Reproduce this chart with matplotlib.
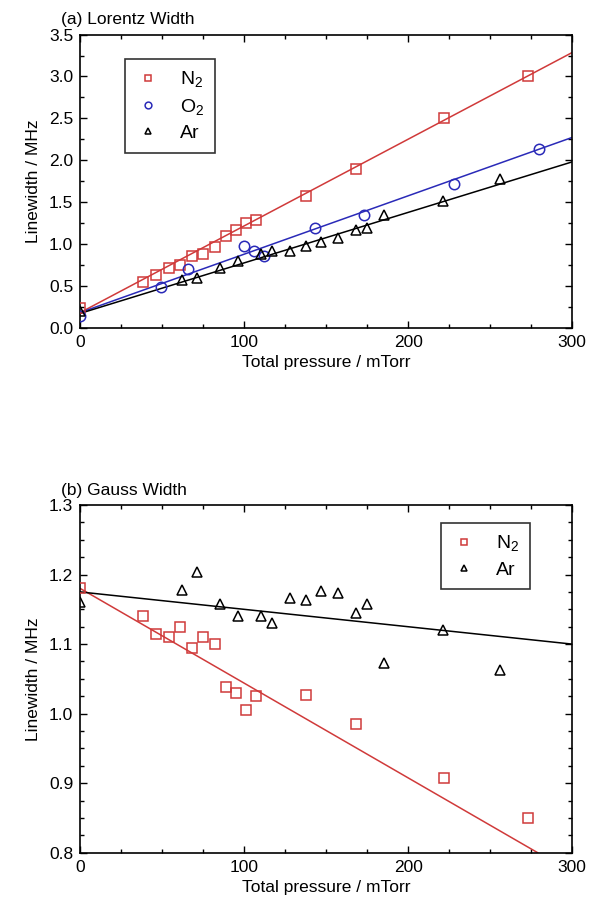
import numpy as np
import matplotlib
matplotlib.use('Agg')
import matplotlib.pyplot as plt
from matplotlib.ticker import MultipleLocator

plt.rcParams['font.family'] = ['Liberation Sans', 'DejaVu Sans']
plt.rcParams['mathtext.fontset'] = 'custom'
plt.rcParams['mathtext.rm'] = 'Liberation Sans'

# (a) Lorentz width
n2_p = [0, 38, 46, 54, 61, 68, 75, 82, 89, 95, 101, 107, 138, 168, 222, 273]
n2_lor = [0.24, 0.54, 0.63, 0.71, 0.75, 0.85, 0.88, 0.96, 1.10, 1.17, 1.25, 1.29, 1.57, 1.90, 2.50, 3.01]
o2_p = [0, 49, 66, 100, 106, 112, 143, 173, 228, 280]
o2_lor = [0.14, 0.48, 0.70, 0.97, 0.92, 0.86, 1.19, 1.34, 1.72, 2.13]
ar_p = [0, 62, 71, 85, 96, 110, 117, 128, 138, 147, 157, 168, 175, 185, 221, 256]
ar_lor = [0.20, 0.57, 0.59, 0.71, 0.79, 0.88, 0.92, 0.92, 0.98, 1.02, 1.07, 1.17, 1.19, 1.35, 1.51, 1.77]

# (b) Gauss width
n2_gau = [1.180, 1.140, 1.115, 1.110, 1.125, 1.095, 1.110, 1.100, 1.038, 1.030, 1.005, 1.025, 1.027, 0.985, 0.908, 0.850]
ar_gau = [1.160, 1.178, 1.204, 1.157, 1.141, 1.140, 1.130, 1.167, 1.163, 1.176, 1.173, 1.145, 1.157, 1.073, 1.120, 1.063]

# fitted lines as drawn in the figure: (intercept, slope per mTorr)
lor_fit = {'N2': (0.18, 0.01035), 'O2': (0.18, 0.00697), 'Ar': (0.17, 0.00603)}
gau_fit = {'N2': (1.180, -0.001362), 'Ar': (1.175, -0.00025)}

red = '#d03a3a'
blue = '#2a2ab8'
black = 'black'


def fit_line(ax, coef, color, ymin=None):
    b, k = coef
    xs = np.linspace(0, 300, 301)
    ys = b + k * xs
    if ymin is not None:
        keep = ys >= ymin
        xs, ys = xs[keep], ys[keep]
    ax.plot(xs, ys, color=color, lw=1.1, zorder=2)


def style_axes(ax, ymajor, yminor):
    ax.set_xlim(0, 300)
    ax.xaxis.set_major_locator(MultipleLocator(100))
    ax.xaxis.set_minor_locator(MultipleLocator(25))
    ax.yaxis.set_major_locator(MultipleLocator(ymajor))
    ax.yaxis.set_minor_locator(MultipleLocator(yminor))
    ax.tick_params(which='both', direction='in', top=True, right=True,
                   labeltop=False, labelright=False, labelsize=12.5, pad=5)
    ax.tick_params(which='major', length=5, width=1)
    ax.tick_params(which='minor', length=3, width=1)
    for s in ax.spines.values():
        s.set_linewidth(1.2)
    ax.set_xlabel('Total pressure / mTorr', fontsize=12.5, labelpad=4)
    ax.set_ylabel('Linewidth / MHz', fontsize=12.5, labelpad=6)


def add_legend(ax, loc, anchor):
    leg = ax.legend(loc=loc, bbox_to_anchor=anchor, fontsize=14,
                    markerscale=0.65, handlelength=1.3, handletextpad=1.0,
                    labelspacing=0.35, borderpad=0.55, frameon=True,
                    fancybox=False, edgecolor='black', borderaxespad=0)
    leg.get_frame().set_linewidth(1.2)


fig = plt.figure(figsize=(5.99, 9.10), dpi=100)
ax1 = fig.add_axes([0.134, 0.640, 0.821, 0.322])
ax2 = fig.add_axes([0.134, 0.063, 0.821, 0.382])

mk = dict(ms=7.5, mfc='none', mew=1.1, ls='none', zorder=3)

fit_line(ax1, lor_fit['N2'], red)
fit_line(ax1, lor_fit['O2'], blue)
fit_line(ax1, lor_fit['Ar'], black)
ax1.plot(n2_p, n2_lor, 's', color=red, label='N$_2$', **mk)
ax1.plot(o2_p, o2_lor, 'o', color=blue, label='O$_2$', **mk)
ax1.plot(ar_p, ar_lor, '^', color=black, label='Ar', **mk)
ax1.set_ylim(0, 3.5)
style_axes(ax1, 0.5, 0.25)
ax1.text(-0.04, 1.025, '(a) Lorentz Width', transform=ax1.transAxes,
         fontsize=12.5, ha='left', va='bottom')
add_legend(ax1, 'upper left', (0.091, 0.915))

fit_line(ax2, gau_fit['N2'], red, ymin=0.8)
fit_line(ax2, gau_fit['Ar'], black)
ax2.plot(n2_p, n2_gau, 's', color=red, label='N$_2$', **mk)
ax2.plot(ar_p, ar_gau, '^', color=black, label='Ar', **mk)
ax2.set_ylim(0.8, 1.3)
style_axes(ax2, 0.1, 0.025)
ax2.text(-0.04, 1.02, '(b) Gauss Width', transform=ax2.transAxes,
         fontsize=12.5, ha='left', va='bottom')
add_legend(ax2, 'upper right', (0.915, 0.948))

fig.savefig('out.png', dpi=100)
